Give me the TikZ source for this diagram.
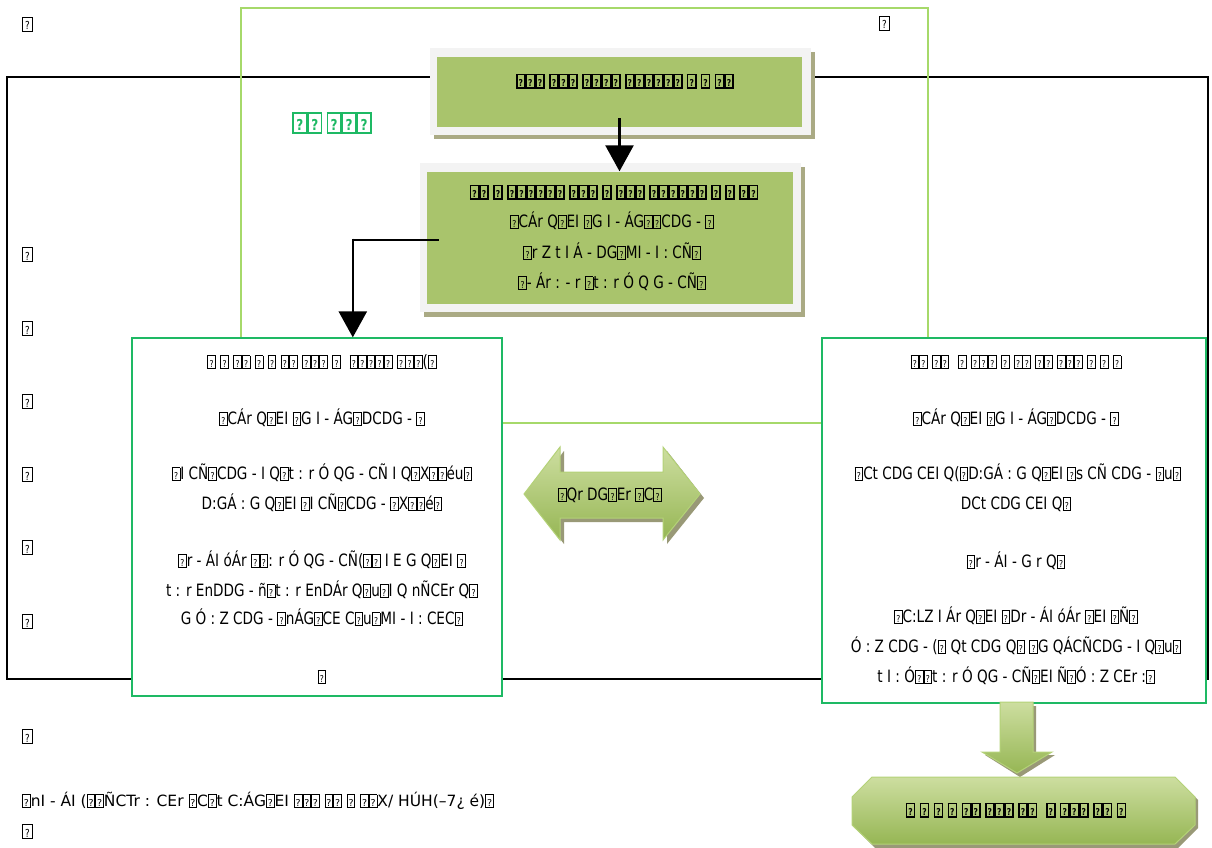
\documentclass[tikz,border=0pt]{standalone}
\usepackage{fontspec}
\setmainfont[FakeStretch=0.8]{DejaVu Sans}
\newfontfamily\plainfont{DejaVu Sans}
\usetikzlibrary{arrows.meta}
\definecolor{boxgreen}{RGB}{169,196,108}
\definecolor{framegrey}{RGB}{243,243,243}
\definecolor{shadowol}{RGB}{170,170,132}
\definecolor{lightgreen}{RGB}{166,217,106}
\definecolor{bordergreen}{RGB}{30,185,100}
\definecolor{arrowlight}{RGB}{205,222,160}
\definecolor{arrowdark}{RGB}{150,182,84}
\definecolor{arrowedge}{RGB}{180,210,120}
\newcommand\q{\raisebox{-0.5pt}{\fboxsep=0pt\fboxrule=0.9pt\framebox[8.6pt][c]{\rule[-0.8pt]{0pt}{12pt}\fontsize{9.5}{9.5}\selectfont ?}}}
\newcommand\qb{\raisebox{-0.5pt}{\fboxsep=0pt\fboxrule=1.5pt\framebox[9.6pt][c]{\rule[-0.8pt]{0pt}{12pt}\fontsize{9.5}{9.5}\selectfont\bfseries ?}}}
\newcommand\qm{\raisebox{-1pt}{\fboxsep=0pt\fboxrule=0.9pt\framebox[10.5pt][c]{\rule[-1pt]{0pt}{13pt}\fontsize{11}{11}\selectfont ?}}}
\newcommand\qg{\raisebox{-1pt}{\fboxsep=0pt\fboxrule=1.7pt\framebox[15pt][c]{\rule[-1.5pt]{0pt}{18.5pt}\fontsize{15}{15}\selectfont\bfseries ?}}}
\begin{document}
\begin{tikzpicture}[x=1pt,y=-1pt,
  txt/.style={font=\fontsize{17}{17}\selectfont, inner sep=0pt, anchor=base},
  marginmark/.style={font=\fontsize{15.5}{15.5}\selectfont, inner sep=0pt, anchor=base west},
  greenbox/.style={fill=boxgreen, draw=none},
  frameb/.style={fill=framegrey, draw=none},
  shadowb/.style={fill=shadowol, draw=none},
  whitebox/.style={draw=bordergreen, line width=1.3pt, fill=white},
  conn/.style={line width=2.6pt, -{Triangle[length=26pt,width=28pt]}},
  blockarrow/.style={top color=arrowlight, bottom color=arrowdark, draw=arrowedge, line width=1pt},
  blockshadow/.style={fill=shadowol!90!black, draw=none}
]
\useasboundingbox (0,0) rectangle (1212,848);
\fill[white] (0,0) rectangle (1212,848);

% outer black frame and light green frame
\draw[line width=1.6pt] (7,77) rectangle (1208,679);
\draw[lightgreen, line width=1.5pt] (241,8) rectangle (928,423);

% top box
\fill[shadowb] (434,52) rectangle (815,139);
\fill[frameb] (430,48) rectangle (811,135);
\node[greenbox, minimum width=365pt, minimum height=70pt, inner sep=0pt] (top) at (619.5,92) {};
\node[txt] (toptxt) at (625,86) {\qb\qb\qb{} \qb\qb\qb{} \qb\qb\qb\qb{} \qb\qb\qb\qb\qb\qb{} \qb{} \qb{} \qb\qb};

% second box
\fill[shadowb] (424,167) rectangle (805,317);
\fill[frameb] (420,163) rectangle (801,312);
\node[greenbox, minimum width=366pt, minimum height=132pt, inner sep=0pt] (mid) at (610,237.5) {};
\node[txt] (m1) at (614,197) {\qb\qb{} \qb{} \qb\qb\qb\qb\qb\qb{} \qb\qb\qb{} \qb{} \qb\qb\qb{} \qb\qb\qb\qb\qb\qb{} \qb{} \qb{} \qb\qb};
\node[txt] (m2) at (612,227) {\q CÁr Q\q EI \q G I - ÁG\q\q CDG - \q};
\node[txt] (m3) at (612,258) {\q r Z t I Á - DG\q MI - I : CÑ\q};
\node[txt] (m4) at (612,288) {\q- Ár : - r \q t : r Ó Q G - CÑ\q};

% left box
\node[whitebox, minimum width=370pt, minimum height=358pt, inner sep=0pt] (left) at (317,517) {};
\node[txt] (l1) at (322,367) {\q{} \q{} \q\q{} \q{} \q{} \q\q{} \q\q\q{} \q{}\ \ \q\q\q\q\q{} \q\q\q(\q};
\node[txt] (l2) at (322,424) {\q CÁr Q\q EI \q G I - ÁG\q DCDG - \q};
\node[txt] (l3) at (322,479) {\q I CÑ\q CDG - I Q\q t : r Ó QG - CÑ I Q\q X\q\q éu\q};
\node[txt] (l4) at (322,509) {D:GÁ : G Q\q EI \q I CÑ\q CDG - \q X\q\q é\q};
\node[txt] (l5) at (322,566) {\q r - ÁI óÁr \q\q : r Ó QG - CÑ(\q\q{} I E G Q\q EI \q};
\node[txt] (l6) at (322,596) {t : r EnDDG - ñ\q t : r EnDÁr Q\q u\q I Q nÑCEr Q\q};
\node[txt] (l7) at (322,624) {G Ó : Z CDG - \q nÁG\q CE C\q u\q MI - I : CEC\q};
\node[txt] (l8) at (322,682) {\q};

% right box
\node[whitebox, minimum width=384pt, minimum height=365pt, inner sep=0pt] (right) at (1014,520.5) {};
\node[txt] (r1) at (1016,367) {\q\q{} \q\q{}\ \ \q{} \q\q\q{} \q{} \q\q{} \q\q{} \q\q\q{} \q{} \q{} \q};
\node[txt] (r2) at (1016,424) {\q CÁr Q\q EI \q G I - ÁG\q DCDG - \q};
\node[txt] (r3) at (1018,479) {\q Ct CDG CEI Q(\q D:GÁ : G Q\q EI \q s CÑ CDG - \q u\q};
\node[txt] (r4) at (1016,509) {DCt CDG CEI Q\q};
\node[txt] (r5) at (1016,567) {\q r - ÁI - G r Q\q};
\node[txt] (r6) at (1016,622) {\q C:LZ I Ár Q\q EI \q Dr - ÁI óÁr \q EI \q Ñ\q};
\node[txt] (r7) at (1016,652) {Ó : Z CDG - (\q{} Qt CDG Q\q{} \q G QÁCÑCDG - I Q\q u\q};
\node[txt] (r8) at (1016,682) {t I : Ó\q\q t : r Ó QG - CÑ\q EI Ñ\q Ó : Z CEr :\q};

% connectors
\draw[conn] ([yshift=9pt]top.south) -- (mid.north -| top.south);
\draw[line width=2.6pt] ([xshift=12pt,yshift=-2.5pt]mid.west) -- ++(-86,0) coordinate (elbow);
\draw[conn] ([yshift=1.3pt]elbow) -- (elbow |- left.north);

% double block arrow
\fill[blockshadow] (528,498) -- (564,451) -- (564,476) -- (667,476) -- (667,451) -- (704,498) -- (667,544) -- (667,522) -- (564,522) -- (564,544) -- cycle;
\shade[blockarrow] (524,494) -- (560,447) -- (560,472) -- (663,472) -- (663,447) -- (700,494) -- (663,540) -- (663,518) -- (560,518) -- (560,540) -- cycle;
\node[txt] (dbl) at (610,500) {\q Qr DG\q Er \q C\q};

% down block arrow
\fill[blockshadow] (1003,706) -- (1036,706) -- (1036,755) -- (1055,755) -- (1020,777) -- (985,755) -- (1003,755) -- cycle;
\shade[blockarrow] (1000,702) -- (1033,702) -- (1033,752) -- (1052,752) -- (1017,773) -- (982,752) -- (1000,752) -- cycle;

% bottom octagon
\fill[blockshadow] (875,780) -- (1178,780) -- (1198,800) -- (1198,828) -- (1178,848) -- (875,848) -- (855,828) -- (855,800) -- cycle;
\shade[blockarrow] (872,777) -- (1175,777) -- (1195,797) -- (1195,825) -- (1175,844) -- (872,844) -- (852,825) -- (852,797) -- cycle;
\node[txt] (oct) at (1016,815) {\qb{}\ \qb{} \qb{} \qb{} \qb\qb{} \qb\qb\qb{} \qb\qb{}\ \ \qb{} \qb\qb\qb{} \qb\qb{} \qb};

% green title
\node[txt] (title) at (332,130) {\color{bordergreen}\qg\qg{} \qg\qg\qg};

% margin marks
\node[marginmark] (k0) at (22,29) {\qm};
\node[marginmark] (k9) at (879,28) {\qm};
\node[marginmark] (k1) at (22,259) {\qm};
\node[marginmark] (k2) at (22,333) {\qm};
\node[marginmark] (k3) at (22,406) {\qm};
\node[marginmark] (k4) at (22,479) {\qm};
\node[marginmark] (k5) at (22,552) {\qm};
\node[marginmark] (k6) at (22,626) {\qm};
\node[marginmark] (k7) at (22,741) {\qm};
\node[marginmark] (k8) at (22,806) {\plainfont\q nI - ÁI (\q\q ÑCTr : CEr \q C\q t C:ÁG\q EI \q\q\q{} \q\q{} \q{} \q\q X/ HÚH(–7¿ é)\q};
\node[marginmark] (k10) at (22,836) {\qm};
\end{tikzpicture}
\end{document}
